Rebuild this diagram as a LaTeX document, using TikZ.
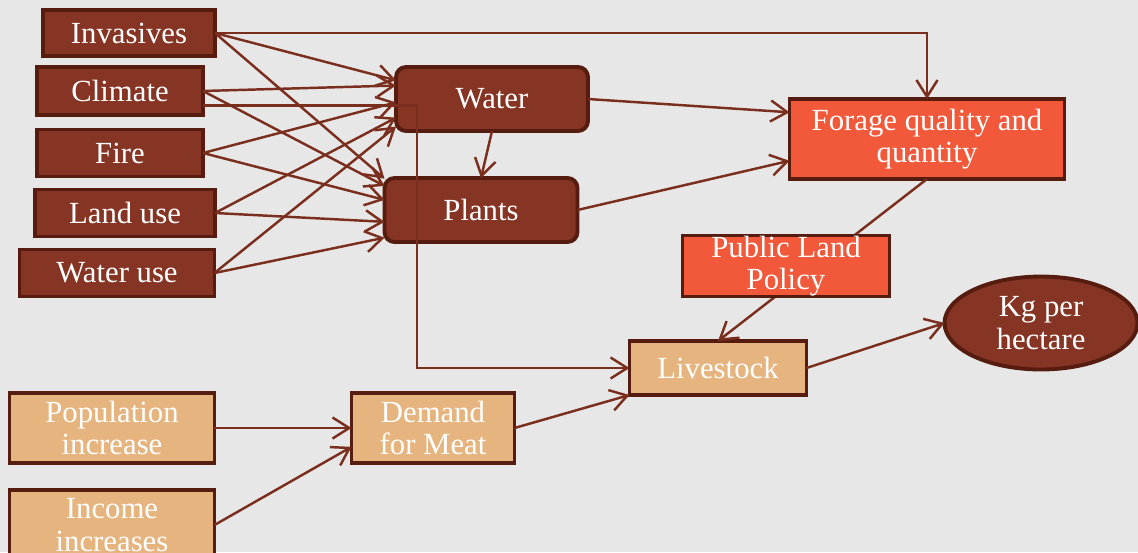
\documentclass[tikz,border=0pt]{standalone}
\usepackage{fontspec}
\setmainfont{Liberation Serif}
\usepackage{tikz}
\usetikzlibrary{arrows.meta}
\usetikzlibrary{shapes.geometric}
\definecolor{paper}{RGB}{231,231,231}
\definecolor{rust}{RGB}{134,52,35}
\definecolor{boxedge}{RGB}{86,28,16}
\definecolor{flame}{RGB}{242,89,58}
\definecolor{tan}{RGB}{230,181,127}
\definecolor{linkbrown}{RGB}{122,46,30}
\newcommand{\factorfont}{\fontsize{17.5}{18.5}\selectfont}
\tikzstyle{factor}=[draw=boxedge, fill=rust, text=white, line width=2.2pt, inner sep=0, outer sep=0,
                    align=center, font=\factorfont]
\tikzstyle{hub}=[factor, rounded corners=0.2cm, minimum width=3.84cm, minimum height=1.28cm]
\tikzstyle{forage}=[factor, fill=flame]
\tikzstyle{market}=[factor, fill=tan]
\tikzstyle{outcome}=[factor, ellipse]
\tikzstyle{link}=[draw=linkbrown, line width=1.4pt, -{Straight Barb[length=9.5pt,width=12pt]}]
\begin{document}
\begin{tikzpicture}[x=0.02cm, y=-0.02cm]
        % page and margins
        \fill[paper] (0,0) rectangle (1138,552);
        \useasboundingbox (0,0) rectangle (1138,552);
        % drivers
        \node[factor, minimum width=3.44cm, minimum height=0.92cm] (inv)  at (129,33)  {Invasives};
        \node[factor, minimum width=3.32cm, minimum height=0.96cm] (clim) at (120,91)  {Climate};
        \node[factor, minimum width=3.32cm, minimum height=0.94cm] (fire) at (120,153) {Fire};
        \node[factor, minimum width=3.6cm,  minimum height=0.94cm] (land) at (125,213) {Land use};
        \node[factor, minimum width=3.9cm,  minimum height=0.94cm] (wuse) at (117,273) {Water use};
        \node[hub]                                                 (water)  at (492,99)  {Water};
        \node[hub, minimum width=3.86cm]                           (plants) at (481,210) {Plants};
        \node[forage, minimum width=5.5cm, minimum height=1.6cm]   (forage) at (927,139) {Forage quality and\\quantity};
        \node[market, minimum width=3.54cm, minimum height=1.08cm] (stock)  at (718,368) {Livestock};
        \node[outcome, minimum width=3.86cm, minimum height=1.86cm] (kg)    at (1041,323) {Kg per\\hectare};
        \node[market, minimum width=4.1cm, minimum height=1.4cm]   (pop)    at (112,428) {Population\\increase};
        \node[market, minimum width=3.26cm, minimum height=1.4cm]  (demand) at (433,428) {Demand\\for Meat};
        \node[market, minimum width=4.1cm, minimum height=1.4cm]   (income) at (112,525) {Income\\increases};
        \coordinate (drop) at (417,368);
        % into water and plants
        \draw[link] (inv.east)  -- (water.169);
        \draw[link] (inv.east)  -- (plants.162);
        \draw[link] (clim.east) -- (water.172);
        \draw[link] (clim.east) -- (plants.166);
        \draw[link] (fire.east) -- (water.182);
        \draw[link] (fire.east) -- (plants.174);
        \draw[link] (land.east) -- (water.191);
        \draw[link] (land.east) -- (plants.187);
        \draw[link] (wuse.east) -- (water.196);
        \draw[link] (wuse.east) -- (plants.196);
        \draw[link] (water.south) -- (plants.north);
        % forage and livestock
        \draw[link] (inv.east) -| (forage.north);
        \draw[link] (water.east) -- (forage.169);
        \draw[link] (plants.east) -- (forage.189);
        \draw[link] (clim.350) -| (drop) -- (stock.west);
        \draw[link] (forage.south) -- (stock.north);
        \draw[link] (stock.east) -- (kg.west);
        % demand side
        \draw[link] (pop.east) -- (demand.west);
        \draw[link] (income.east) -- (demand.193);
        \draw[link] (demand.east) -- (stock.south west);
        % policy box sits over the forage link
        \node[forage, minimum width=4.14cm, minimum height=1.22cm] (policy) at (786,266) {Public Land\\Policy};
    \end{tikzpicture}
\end{document}
